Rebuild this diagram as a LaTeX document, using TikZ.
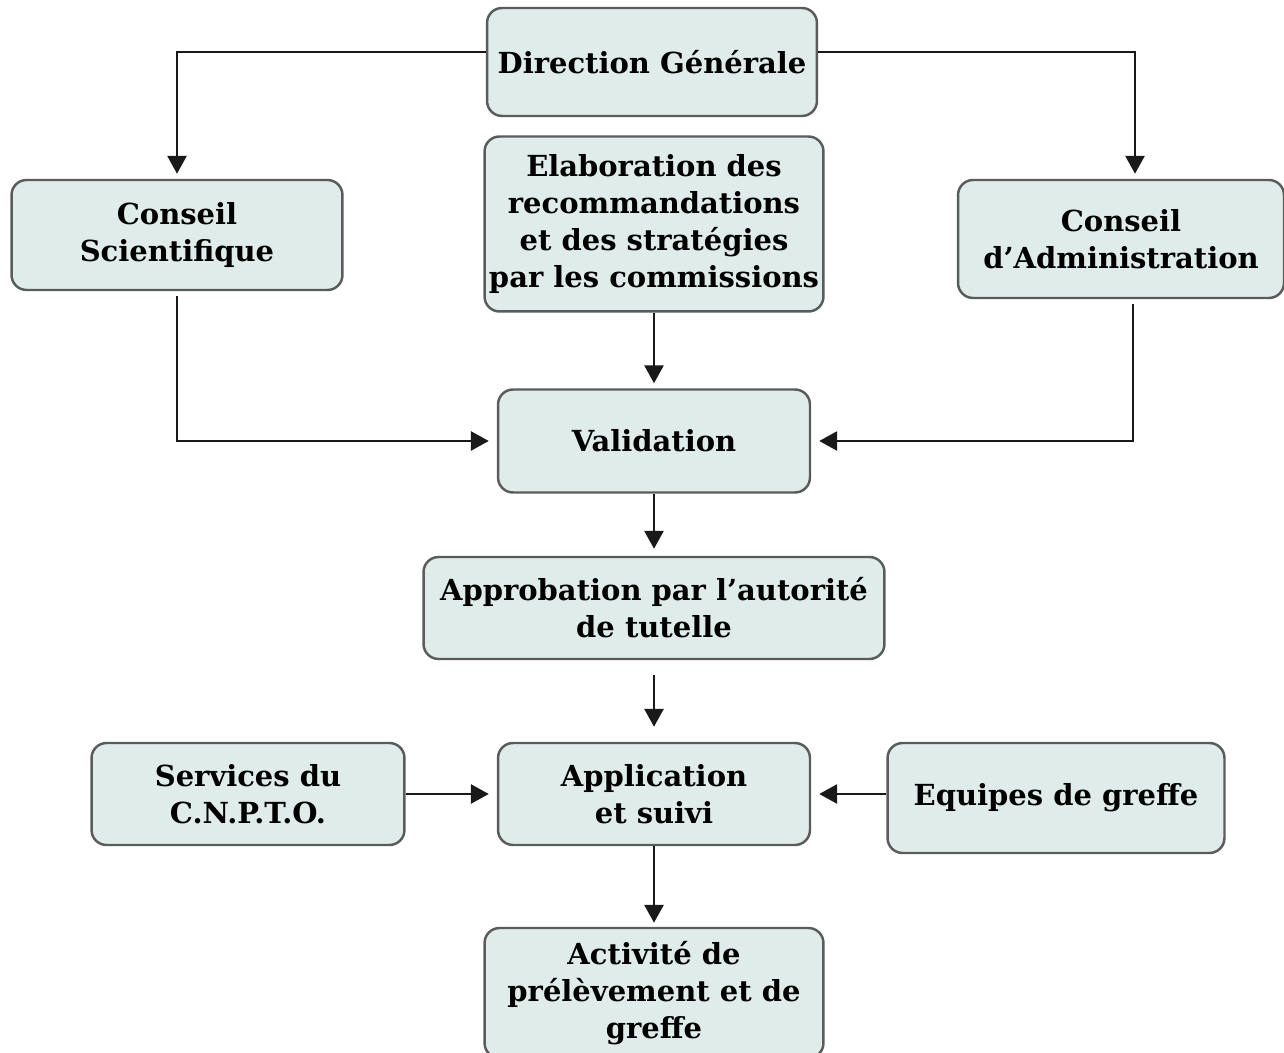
\documentclass[tikz,border=0pt]{standalone}
\usepackage{fontspec}
\setmainfont{DejaVu Serif}
\usetikzlibrary{arrows.meta}
\definecolor{boxfill}{HTML}{E0ECEA}
\definecolor{boxline}{HTML}{5A5C5C}

\begin{document}
\begin{tikzpicture}[
    x=0.02cm,
    y=-0.02cm,
    >={Triangle[length=0.36cm,width=0.38cm]},
    box/.style={draw=boxline, line width=1.4pt, fill=boxfill,
        rounded corners=0.3cm, align=center, inner sep=0pt,
        font=\fontsize{16.5}{21}\selectfont\bfseries},
    link/.style={->, line width=1.6pt, black!90}
]

%------------------------------------------------------------
% Frame
%------------------------------------------------------------

\useasboundingbox (0,0) rectangle (1284,1053);

%------------------------------------------------------------
% Boxes
%------------------------------------------------------------

\node[box, minimum width=6.6cm, minimum height=2.16cm]
(dg) at (652,62)
{Direction Générale};

\node[box, minimum width=6.62cm, minimum height=2.2cm]
(cs) at (177,235)
{Conseil\\Scientifique};

\node[box, minimum width=6.78cm, minimum height=3.5cm]
(elab) at (654,224)
{Elaboration des\\recommandations\\et des stratégies\\par les commissions};

\node[box, minimum width=6.52cm, minimum height=2.36cm]
(ca) at (1121,239)
{Conseil\\d’Administration};

\node[box, minimum width=6.24cm, minimum height=2.06cm]
(val) at (654,441)
{Validation};

\node[box, minimum width=9.22cm, minimum height=2.04cm]
(appr) at (654,608)
{Approbation par l’autorité\\de tutelle};

\node[box, minimum width=6.26cm, minimum height=2.04cm]
(serv) at (248,794)
{Services du\\C.N.P.T.O.};

\node[box, minimum width=6.24cm, minimum height=2.04cm]
(appl) at (654,794)
{Application\\et suivi};

\node[box, minimum width=6.74cm, minimum height=2.2cm]
(eq) at (1056,798)
{Equipes de greffe};

\node[box, minimum width=6.78cm, minimum height=2.6cm]
(act) at (654,993)
{Activité de\\prélèvement et de\\greffe};

%------------------------------------------------------------
% Connectors
%------------------------------------------------------------

% from the top
\draw[link, shorten >=0.1cm]
([yshift=0.2cm]dg.west) -| (cs.north);

\draw[link, shorten >=0.1cm]
([yshift=0.2cm]dg.east) -| ([xshift=0.28cm]ca.north);

% towards validation
\draw[link, shorten >=0.1cm]
(elab.south) -- (val.north);

\draw[link, shorten <=0.1cm, shorten >=0.16cm]
(cs.south) |- (val.west);

\draw[link, shorten <=0.1cm, shorten >=0.16cm]
([xshift=0.24cm]ca.south) |- (val.east);

% down the middle
\draw[link, shorten >=0.14cm]
(val.south) -- (appr.north);

\draw[link, shorten <=0.3cm, shorten >=0.3cm]
(appr.south) -- (appl.north);

\draw[link, shorten >=0.16cm]
(serv.east) -- (appl.west);

\draw[link, shorten >=0.16cm]
(eq.west |- appl.east) -- (appl.east);

\draw[link, shorten >=0.08cm]
(appl.south) -- (act.north);

\end{tikzpicture}
\end{document}
